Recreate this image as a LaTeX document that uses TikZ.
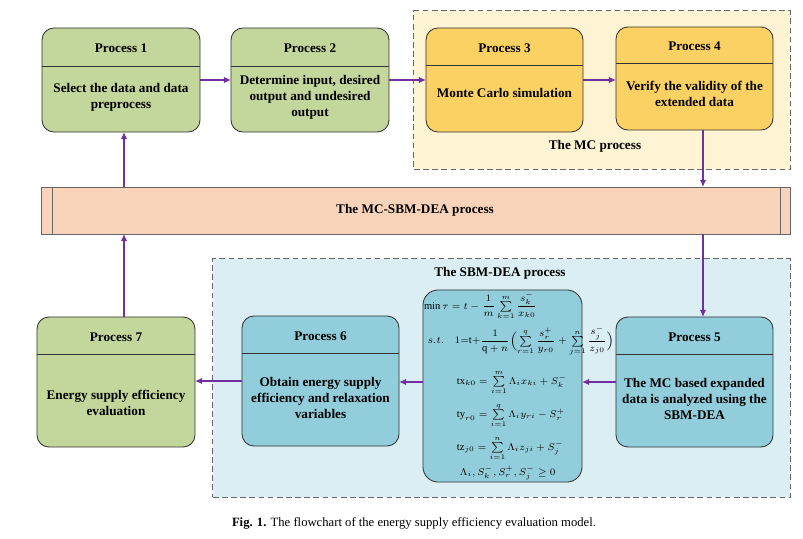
\documentclass[tikz,border=0pt]{standalone}
\usepackage{amsmath}
\usepackage{fontspec}
\setmainfont{Liberation Serif}
\usetikzlibrary{arrows.meta}

\definecolor{procgreen}{HTML}{C3D69B}
\definecolor{procyellow}{HTML}{FAD162}
\definecolor{procblue}{HTML}{92CDDC}
\definecolor{barpeach}{HTML}{FAD4BA}
\definecolor{mcback}{HTML}{FEF4D4}
\definecolor{sbmback}{HTML}{DAEEF3}
\definecolor{boxline}{HTML}{333333}
\definecolor{regionline}{HTML}{666666}
\definecolor{flowpurple}{HTML}{7030A0}

\begin{document}
\begin{tikzpicture}
    [x=0.025cm, y=-0.025cm, inner sep=0pt, outer sep=0pt,
     font=\fontsize{9.4}{11.3}\selectfont\bfseries,
     box/.style={draw=boxline, line width=0.6pt, rounded corners=0.3cm},
     region/.style={draw=regionline, dash pattern=on 4pt off 2.5pt, line width=0.7pt},
     flow/.style={->, draw=flowpurple, line width=0.9pt},
     >={Latex[length=5pt,width=4.5pt]},
     body/.style={align=center},
     formula/.style={font=\fontsize{7.5}{9}\selectfont}]

    \useasboundingbox (0,0) rectangle (803,539);

    % dashed process regions:
    \node (mc) at (602, 90) [region, fill=mcback, minimum width=9.4cm, minimum height=3.95cm] {};
    \node (sbm) at (501.5, 378) [region, fill=sbmback, minimum width=14.425cm, minimum height=5.95cm] {};
    \node (mclabel) at (595, 146) {The MC process};
    \node (sbmlabel) at (500, 273) {The SBM-DEA process};

    % the long bar:
    \node (bar) at (416, 210.5) [draw=regionline, line width=0.6pt, fill=barpeach, minimum width=18.7cm, minimum height=1.175cm] {};
    \draw [draw=regionline, line width=0.6pt] (52, 187) -- (52, 234);
    \draw [draw=regionline, line width=0.6pt] (780, 187) -- (780, 234);
    \node (barlabel) at (415, 210) {The MC-SBM-DEA process};

    % top row:
    \node (p1) at (121, 80) [box, fill=procgreen, minimum width=3.95cm, minimum height=2.6cm] {};
    \node (p2) at (310, 80) [box, fill=procgreen, minimum width=3.95cm, minimum height=2.6cm] {};
    \node (p3) at (504.5, 80) [box, fill=procyellow, minimum width=3.925cm, minimum height=2.6cm] {};
    \node (p4) at (694.5, 78.5) [box, fill=procyellow, minimum width=3.925cm, minimum height=2.575cm] {};
    \draw [draw=boxline, line width=0.6pt] (42, 66) -- (200, 66);
    \draw [draw=boxline, line width=0.6pt] (231, 66) -- (389, 66);
    \draw [draw=boxline, line width=0.6pt] (426, 65) -- (583, 65);
    \draw [draw=boxline, line width=0.6pt] (616, 63) -- (773, 63);

    \node (p1h) at (121, 48) {Process 1};
    \node (p2h) at (310, 48) {Process 2};
    \node (p3h) at (504.5, 48) {Process 3};
    \node (p4h) at (694.5, 46) {Process 4};
    \node (p1t) at (121, 97) [body] {Select the data and data\\preprocess};
    \node (p2t) at (310, 97) [body] {Determine input, desired\\output and undesired\\output};
    \node (p3t) at (504.5, 93) [body] {Monte Carlo simulation};
    \node (p4t) at (694.5, 93.5) [body] {Verify the validity of the\\extended data};

    % bottom row:
    \node (p7) at (116, 382) [box, fill=procgreen, minimum width=3.95cm, minimum height=3.25cm] {};
    \node (p6) at (320.5, 381) [box, fill=procblue, minimum width=3.925cm, minimum height=3.25cm] {};
    \node (fm) at (502.5, 386) [box, fill=procblue, rounded corners=0.38cm, minimum width=3.975cm, minimum height=4.8cm] {};
    \node (p5) at (694.5, 382) [box, fill=procblue, minimum width=3.925cm, minimum height=3.25cm] {};
    \draw [draw=boxline, line width=0.6pt] (37, 354) -- (195, 354);
    \draw [draw=boxline, line width=0.6pt] (242, 353) -- (399, 353);
    \draw [draw=boxline, line width=0.6pt] (616, 354) -- (773, 354);

    \node (p7h) at (116, 337) {Process 7};
    \node (p6h) at (320.5, 336) {Process 6};
    \node (p5h) at (694.5, 337) {Process 5};
    \node (p7t) at (116, 403) [body] {Energy supply efficiency\\evaluation};
    \node (p6t) at (320.5, 398) [body] {Obtain energy supply\\efficiency and relaxation\\variables};
    \node (p5t) at (694.5, 399) [body] {The MC based expanded\\data is analyzed using the\\SBM-DEA};

    % SBM-DEA model:
    \node (model) at (424, 292) [formula, anchor=north west] {\vbox{%
      \lineskiplimit=-100pt \baselineskip=23.4pt
      \hbox{$\min\tau = t-\dfrac{1}{m}\sum\limits_{\scriptscriptstyle k=1}^{\scriptscriptstyle m}\dfrac{s_k^-}{x_{k0}}$}
      \vskip1.4pt
      \hbox{\hskip2.8pt\makebox[19pt][l]{$s.t.$}$1{=}\mathrm{t}{+}\dfrac{1}{\mathrm{q}+n}\Bigl(\sum\limits_{\scriptscriptstyle r=1}^{\scriptscriptstyle q}\dfrac{s_r^+}{y_{r0}}+\sum\limits_{\scriptscriptstyle j=1}^{\scriptscriptstyle n}\dfrac{s_j^-}{z_{j0}}\Bigr)$}
      \vskip5.4pt
      \hbox{\hskip23.4pt$\mathrm{tx}_{k0}=\sum\limits_{\scriptscriptstyle i=1}^{\scriptscriptstyle m}\Lambda_i x_{ki}+S_k^-$}
      \hbox{\hskip23.4pt$\mathrm{ty}_{r0}=\sum\limits_{\scriptscriptstyle i=1}^{\scriptscriptstyle q}\Lambda_i y_{ri}-S_r^+$}
      \hbox{\hskip23.4pt$\mathrm{tz}_{j0}=\sum\limits_{\scriptscriptstyle i=1}^{\scriptscriptstyle n}\Lambda_i z_{ji}+S_j^-$}
      \vskip-5.7pt
      \hbox{\hskip25.5pt$\Lambda_i, S_k^-, S_r^+, S_j^-\geq 0$}}};

    % connect nodes:
    \coordinate (lx) at (124, 0);
    \coordinate (rx) at (703, 0);

    \draw [flow] (p1) to (p2);
    \draw [flow] (p2.east) to (p3.west);
    \draw [flow] (p3.east) to (p3.east -| p4.west);
    \draw [flow] (p4.south -| rx) to (bar.north -| rx);
    \draw [flow] (bar.south -| rx) to (p5.north -| rx);
    \draw [flow] (p5.west) to (fm.east |- p5.west);
    \draw [flow] (fm.west |- p5.west) to (p6.east |- p5.west);
    \draw [flow] (p6.west) to (p7.east |- p6.west);
    \draw [flow] (p7.north -| lx) to (bar.south -| lx);
    \draw [flow] (bar.north -| lx) to (p1.south -| lx);

    % caption:
    \node (caption) at (414, 523) [font=\fontsize{9}{11}\selectfont] {\textbf{Fig. 1.} The flowchart of the energy supply efficiency evaluation model.};

\end{tikzpicture}
\end{document}
